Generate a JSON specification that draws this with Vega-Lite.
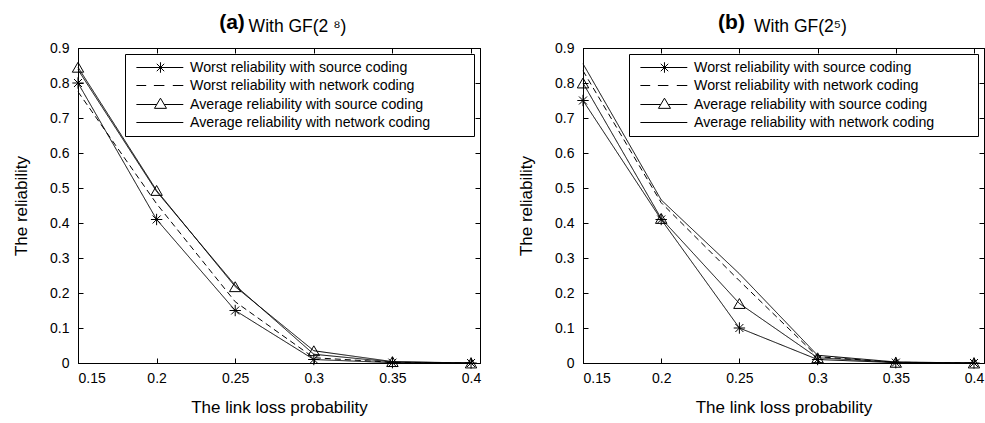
{
  "$schema": "https://vega.github.io/schema/vega-lite/v6.json",
  "background": "white",
  "padding": {"left": 12, "top": 11, "right": 0, "bottom": 5},
  "data": {"values": [
    {"panel": "a", "p": 0.15, "r": 0.8, "s": "Worst reliability with source coding"},
    {"panel": "a", "p": 0.2, "r": 0.41, "s": "Worst reliability with source coding"},
    {"panel": "a", "p": 0.25, "r": 0.15, "s": "Worst reliability with source coding"},
    {"panel": "a", "p": 0.3, "r": 0.01, "s": "Worst reliability with source coding"},
    {"panel": "a", "p": 0.35, "r": 0.001, "s": "Worst reliability with source coding"},
    {"panel": "a", "p": 0.4, "r": 0, "s": "Worst reliability with source coding"},
    {"panel": "a", "p": 0.15, "r": 0.775, "s": "Worst reliability with network coding"},
    {"panel": "a", "p": 0.2, "r": 0.455, "s": "Worst reliability with network coding"},
    {"panel": "a", "p": 0.25, "r": 0.175, "s": "Worst reliability with network coding"},
    {"panel": "a", "p": 0.3, "r": 0.015, "s": "Worst reliability with network coding"},
    {"panel": "a", "p": 0.35, "r": 0.002, "s": "Worst reliability with network coding"},
    {"panel": "a", "p": 0.4, "r": 0, "s": "Worst reliability with network coding"},
    {"panel": "a", "p": 0.15, "r": 0.845, "s": "Average reliability with source coding"},
    {"panel": "a", "p": 0.2, "r": 0.493, "s": "Average reliability with source coding"},
    {"panel": "a", "p": 0.25, "r": 0.218, "s": "Average reliability with source coding"},
    {"panel": "a", "p": 0.3, "r": 0.035, "s": "Average reliability with source coding"},
    {"panel": "a", "p": 0.35, "r": 0.004, "s": "Average reliability with source coding"},
    {"panel": "a", "p": 0.4, "r": 0, "s": "Average reliability with source coding"},
    {"panel": "a", "p": 0.15, "r": 0.838, "s": "Average reliability with network coding"},
    {"panel": "a", "p": 0.2, "r": 0.49, "s": "Average reliability with network coding"},
    {"panel": "a", "p": 0.25, "r": 0.222, "s": "Average reliability with network coding"},
    {"panel": "a", "p": 0.3, "r": 0.025, "s": "Average reliability with network coding"},
    {"panel": "a", "p": 0.35, "r": 0.003, "s": "Average reliability with network coding"},
    {"panel": "a", "p": 0.4, "r": 0, "s": "Average reliability with network coding"},
    {"panel": "b", "p": 0.15, "r": 0.75, "s": "Worst reliability with source coding"},
    {"panel": "b", "p": 0.2, "r": 0.41, "s": "Worst reliability with source coding"},
    {"panel": "b", "p": 0.25, "r": 0.1, "s": "Worst reliability with source coding"},
    {"panel": "b", "p": 0.3, "r": 0.01, "s": "Worst reliability with source coding"},
    {"panel": "b", "p": 0.35, "r": 0.001, "s": "Worst reliability with source coding"},
    {"panel": "b", "p": 0.4, "r": 0, "s": "Worst reliability with source coding"},
    {"panel": "b", "p": 0.15, "r": 0.835, "s": "Worst reliability with network coding"},
    {"panel": "b", "p": 0.2, "r": 0.458, "s": "Worst reliability with network coding"},
    {"panel": "b", "p": 0.25, "r": 0.235, "s": "Worst reliability with network coding"},
    {"panel": "b", "p": 0.3, "r": 0.018, "s": "Worst reliability with network coding"},
    {"panel": "b", "p": 0.35, "r": 0.002, "s": "Worst reliability with network coding"},
    {"panel": "b", "p": 0.4, "r": 0, "s": "Worst reliability with network coding"},
    {"panel": "b", "p": 0.15, "r": 0.8, "s": "Average reliability with source coding"},
    {"panel": "b", "p": 0.2, "r": 0.413, "s": "Average reliability with source coding"},
    {"panel": "b", "p": 0.25, "r": 0.17, "s": "Average reliability with source coding"},
    {"panel": "b", "p": 0.3, "r": 0.015, "s": "Average reliability with source coding"},
    {"panel": "b", "p": 0.35, "r": 0.002, "s": "Average reliability with source coding"},
    {"panel": "b", "p": 0.4, "r": 0, "s": "Average reliability with source coding"},
    {"panel": "b", "p": 0.15, "r": 0.855, "s": "Average reliability with network coding"},
    {"panel": "b", "p": 0.2, "r": 0.466, "s": "Average reliability with network coding"},
    {"panel": "b", "p": 0.25, "r": 0.255, "s": "Average reliability with network coding"},
    {"panel": "b", "p": 0.3, "r": 0.022, "s": "Average reliability with network coding"},
    {"panel": "b", "p": 0.35, "r": 0.003, "s": "Average reliability with network coding"},
    {"panel": "b", "p": 0.4, "r": 0, "s": "Average reliability with network coding"}
  ]},
  "spacing": 35,
  "hconcat": [
    {
      "width": 402, "height": 315,
      "title": {"text": "(a)", "frame": "group", "dx": -47, "dy": 20, "fontSize": 21, "fontWeight": "bold"},
      "transform": [{"filter": "datum.panel === 'a'"}],
      "layer": [
        {
          "mark": {"type": "line", "color": "black", "strokeWidth": 1},
          "encoding": {
            "x": {"field": "p", "type": "quantitative", "scale": {"domain": [0.15, 0.4057], "nice": false, "zero": false},
                  "axis": {"orient": "bottom", "values": [0.15, 0.2, 0.25, 0.3, 0.35, 0.4], "format": ".2~f", "title": "The link loss probability", "titlePadding": 14}},
            "y": {"field": "r", "type": "quantitative", "scale": {"domain": [0, 0.9], "nice": false},
                  "axis": {"orient": "left", "values": [0, 0.1, 0.2, 0.3, 0.4, 0.5, 0.6, 0.7, 0.8, 0.9], "format": ".1~f", "title": "The reliability", "labelPadding": 14, "titlePadding": 19}},
            "strokeDash": {"field": "s", "type": "nominal", "legend": null,
                  "scale": {"domain": ["Worst reliability with source coding", "Worst reliability with network coding", "Average reliability with source coding", "Average reliability with network coding"],
                            "range": [[1, 0], [6, 4], [1, 0], [1, 0]]}}
          }
        },
        {
          "transform": [{"filter": "datum.s === 'Worst reliability with source coding' || datum.s === 'Average reliability with source coding'"}],
          "mark": {"type": "point", "color": "black", "filled": false, "strokeWidth": 1, "size": 130, "opacity": 1},
          "encoding": {
            "x": {"field": "p", "type": "quantitative", "scale": {"domain": [0.15, 0.4057], "nice": false, "zero": false},
                  "axis": {"orient": "top", "values": [0.15, 0.2, 0.25, 0.3, 0.35, 0.4], "labels": false, "title": "With GF(2 ⁸)", "titleFontSize": 17.5, "titleX": 219, "titleY": -17, "titleBaseline": "alphabetic", "titleAlign": "center"}},
            "y": {"field": "r", "type": "quantitative", "scale": {"domain": [0, 0.9], "nice": false},
                  "axis": {"orient": "right", "values": [0, 0.1, 0.2, 0.3, 0.4, 0.5, 0.6, 0.7, 0.8, 0.9], "labels": false, "title": null}},
            "shape": {"field": "s", "type": "nominal", "legend": null,
                  "scale": {"domain": ["Worst reliability with source coding", "Average reliability with source coding"],
                            "range": ["M0,-1L0,1M-1,0L1,0M-0.7,-0.7L0.7,0.7M-0.7,0.7L0.7,-0.7", "triangle-up"]}}
          }
        },
        {
          "transform": [{"filter": "false"}],
          "mark": {"type": "point", "color": "black", "filled": false, "strokeWidth": 1},
          "encoding": {
            "x": {"field": "p", "type": "quantitative", "scale": {"domain": [0.15, 0.4057], "nice": false, "zero": false}, "axis": null},
            "y": {"field": "r", "type": "quantitative", "scale": {"domain": [0, 0.9], "nice": false}, "axis": null},
            "shape": {"field": "s", "type": "nominal",
                  "scale": {"domain": ["Worst reliability with source coding", "Worst reliability with network coding", "Average reliability with source coding", "Average reliability with network coding"],
                            "range": ["M-0.3,0H6.4M3.14,-0.75V0.75M2.39,0H3.89M2.61,-0.53L3.67,0.53M2.61,0.53L3.67,-0.53", "M-0.3,0H1.1M2.2,0H3.7M4.9,0H6.4", "M-0.3,0H2.61M3.67,0H6.4M2.28,0.55L3.14,-0.9L4,0.55Z", "M-0.3,0H6.4"]},
                  "legend": {"title": " ", "titleOrient": "right", "titlePadding": 38, "orient": "top-right", "offset": 6, "strokeColor": "black", "fillColor": "white", "padding": 6,
                             "symbolSize": 196, "symbolStrokeColor": "black", "symbolFillColor": "transparent", "symbolStrokeWidth": 1, "symbolOpacity": 1,
                             "labelFontSize": 14.2, "labelFont": "Liberation Sans", "labelColor": "black", "labelOffset": 44, "labelLimit": 0, "rowPadding": 3, "cornerRadius": 0}}
          }
        }
      ],
      "resolve": {"scale": {"shape": "independent"}, "axis": {"x": "independent", "y": "independent"}}
    },
    {
      "width": 401, "height": 315,
      "title": {"text": "(b)", "frame": "group", "dx": -52, "dy": 20, "fontSize": 21, "fontWeight": "bold"},
      "transform": [{"filter": "datum.panel === 'b'"}],
      "layer": [
        {
          "mark": {"type": "line", "color": "black", "strokeWidth": 1},
          "encoding": {
            "x": {"field": "p", "type": "quantitative", "scale": {"domain": [0.15, 0.4064], "nice": false, "zero": false},
                  "axis": {"orient": "bottom", "values": [0.15, 0.2, 0.25, 0.3, 0.35, 0.4], "format": ".2~f", "title": "The link loss probability", "titlePadding": 14}},
            "y": {"field": "r", "type": "quantitative", "scale": {"domain": [0, 0.9], "nice": false},
                  "axis": {"orient": "left", "values": [0, 0.1, 0.2, 0.3, 0.4, 0.5, 0.6, 0.7, 0.8, 0.9], "format": ".1~f", "title": "The reliability", "labelPadding": 14, "titlePadding": 19}},
            "strokeDash": {"field": "s", "type": "nominal", "legend": null,
                  "scale": {"domain": ["Worst reliability with source coding", "Worst reliability with network coding", "Average reliability with source coding", "Average reliability with network coding"],
                            "range": [[1, 0], [6, 4], [1, 0], [1, 0]]}}
          }
        },
        {
          "transform": [{"filter": "datum.s === 'Worst reliability with source coding' || datum.s === 'Average reliability with source coding'"}],
          "mark": {"type": "point", "color": "black", "filled": false, "strokeWidth": 1, "size": 130, "opacity": 1},
          "encoding": {
            "x": {"field": "p", "type": "quantitative", "scale": {"domain": [0.15, 0.4064], "nice": false, "zero": false},
                  "axis": {"orient": "top", "values": [0.15, 0.2, 0.25, 0.3, 0.35, 0.4], "labels": false, "title": "With GF(2⁵)", "titleFontSize": 17.5, "titleX": 217, "titleY": -17, "titleBaseline": "alphabetic", "titleAlign": "center"}},
            "y": {"field": "r", "type": "quantitative", "scale": {"domain": [0, 0.9], "nice": false},
                  "axis": {"orient": "right", "values": [0, 0.1, 0.2, 0.3, 0.4, 0.5, 0.6, 0.7, 0.8, 0.9], "labels": false, "title": null}},
            "shape": {"field": "s", "type": "nominal", "legend": null,
                  "scale": {"domain": ["Worst reliability with source coding", "Average reliability with source coding"],
                            "range": ["M0,-1L0,1M-1,0L1,0M-0.7,-0.7L0.7,0.7M-0.7,0.7L0.7,-0.7", "triangle-up"]}}
          }
        },
        {
          "transform": [{"filter": "false"}],
          "mark": {"type": "point", "color": "black", "filled": false, "strokeWidth": 1},
          "encoding": {
            "x": {"field": "p", "type": "quantitative", "scale": {"domain": [0.15, 0.4064], "nice": false, "zero": false}, "axis": null},
            "y": {"field": "r", "type": "quantitative", "scale": {"domain": [0, 0.9], "nice": false}, "axis": null},
            "shape": {"field": "s", "type": "nominal",
                  "scale": {"domain": ["Worst reliability with source coding", "Worst reliability with network coding", "Average reliability with source coding", "Average reliability with network coding"],
                            "range": ["M-0.3,0H6.4M3.14,-0.75V0.75M2.39,0H3.89M2.61,-0.53L3.67,0.53M2.61,0.53L3.67,-0.53", "M-0.3,0H1.1M2.2,0H3.7M4.9,0H6.4", "M-0.3,0H2.61M3.67,0H6.4M2.28,0.55L3.14,-0.9L4,0.55Z", "M-0.3,0H6.4"]},
                  "legend": {"title": " ", "titleOrient": "right", "titlePadding": 38, "orient": "top-right", "offset": 6, "strokeColor": "black", "fillColor": "white", "padding": 6,
                             "symbolSize": 196, "symbolStrokeColor": "black", "symbolFillColor": "transparent", "symbolStrokeWidth": 1, "symbolOpacity": 1,
                             "labelFontSize": 14.2, "labelFont": "Liberation Sans", "labelColor": "black", "labelOffset": 44, "labelLimit": 0, "rowPadding": 3, "cornerRadius": 0}}
          }
        }
      ],
      "resolve": {"scale": {"shape": "independent"}, "axis": {"x": "independent", "y": "independent"}}
    }
  ],
  "config": {
    "view": {"stroke": "black", "strokeWidth": 1},
    "font": "Liberation Sans",
    "title": {"font": "Liberation Sans", "color": "black", "anchor": "middle", "offset": 0},
    "axis": {"grid": false, "domainColor": "black", "tickColor": "black", "labelColor": "black", "titleColor": "black",
             "labelFont": "Liberation Sans", "titleFont": "Liberation Sans", "labelFontSize": 14, "titleFontSize": 17,
             "titleFontWeight": "normal", "tickSize": -5, "labelPadding": 13, "titlePadding": 10}
  }
}
